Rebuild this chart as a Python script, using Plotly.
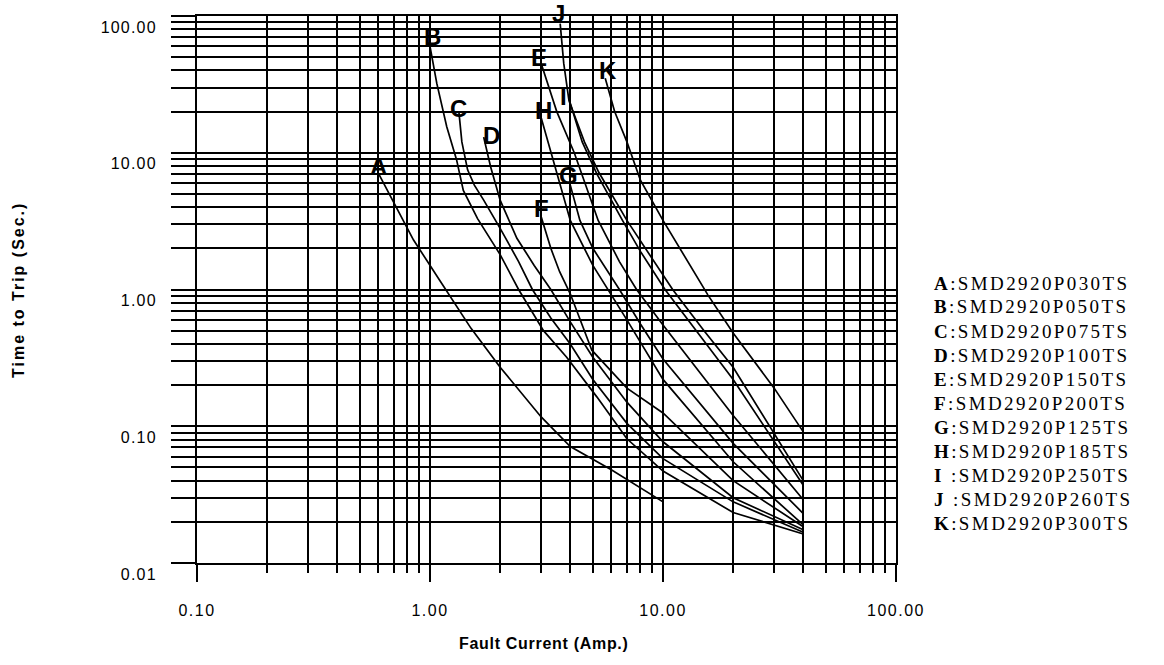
import math
import plotly.graph_objects as go

# ---------------- data (fault current in A, time to trip in s) ----------------
A_I = [0.6, 0.85, 1.1, 1.24, 1.5, 2.0, 3.0, 4.0, 6.0, 10.0]
A_t = [7.1, 2.3, 1.17, 0.86, 0.52, 0.27, 0.117, 0.071, 0.048, 0.028]

B_I = [1.0, 1.07, 1.18, 1.30, 1.39, 1.6, 2.0, 2.4, 3.07, 3.86, 5.2, 7.0, 10.0, 20.0, 40.0]
B_t = [60, 32, 15.5, 8.9, 5.3, 3.3, 1.8, 1.0, 0.5, 0.32, 0.164, 0.081, 0.047, 0.0234, 0.0163]

C_I = [1.33, 1.37, 1.45, 1.55, 1.7, 2.0, 2.4, 2.75, 3.3, 4.0, 5.0, 7.0, 10.0, 20.0, 40.0]
C_t = [20, 12, 7.5, 5.8, 4.5, 2.8, 1.6, 1.0, 0.62, 0.4, 0.22, 0.105, 0.058, 0.028, 0.0168]

D_I = [1.7, 1.82, 2.0, 2.36, 2.8, 3.3, 4.0, 5.0, 7.0, 10.0, 20.0, 40.0]
D_t = [13, 7.9, 4.5, 2.37, 1.5, 1.0, 0.58, 0.32, 0.15, 0.077, 0.03, 0.0175]

E_I = [3.0, 3.5, 4.16, 5.27, 6.5, 7.7, 10.0, 20.0, 40.0]
E_t = [45, 20, 10, 3.2, 1.6, 1.0, 0.55, 0.12, 0.029]

F_I = [3.0, 3.3, 3.6, 4.0, 4.95, 7.0, 10.0, 20.0, 40.0]
F_t = [3.4, 2.0, 1.35, 0.93, 0.36, 0.19, 0.125, 0.04, 0.0184]

G_I = [4.0, 4.2, 4.4, 5.0, 6.5, 8.0, 10.0, 20.0, 40.0]
G_t = [5.8, 4.2, 3.2, 2.0, 1.0, 0.56, 0.31, 0.075, 0.023]

H_I = [3.0, 3.5, 4.0, 5.0, 5.8, 7.0, 10.0, 20.0, 40.0]
H_t = [18, 7.3, 3.2, 1.5, 1.0, 0.6, 0.22, 0.055, 0.019]

I_I = [4.0, 4.5, 5.2, 6.7, 8.0, 10.2, 15.0, 20.0, 40.0]
I_t = [23, 12, 7, 3.2, 1.9, 1.0, 0.42, 0.22, 0.037]

J_I = [3.62, 3.75, 3.95, 4.6, 5.3, 7.0, 11.0, 15.0, 20.0, 40.0]
J_t = [88, 45, 24, 12, 7.2, 3.2, 1.0, 0.5, 0.27, 0.040]

K_I = [5.65, 6.2, 7.0, 8.0, 10.0, 15.6, 20.0, 30.0, 40.0]
K_t = [35, 20, 12, 6.3, 3.2, 0.91, 0.48, 0.19, 0.091]

curve_letters = ["A", "B", "C", "D", "E", "F", "G", "H", "I", "J", "K"]
curve_currents = [A_I, B_I, C_I, D_I, E_I, F_I, G_I, H_I, I_I, J_I, K_I]
curve_times = [A_t, B_t, C_t, D_t, E_t, F_t, G_t, H_t, I_t, J_t, K_t]

legend_letters = ["A", "B", "C", "D", "E", "F", "G", "H", "I ", "J ", "K"]
part_numbers = ["SMD2920P030TS", "SMD2920P050TS", "SMD2920P075TS", "SMD2920P100TS",
                "SMD2920P150TS", "SMD2920P200TS", "SMD2920P125TS", "SMD2920P185TS",
                "SMD2920P250TS", "SMD2920P260TS", "SMD2920P300TS"]

x_major = [0.1, 1, 10, 100]
x_major_text = ["0.10", "1.00", "10.00", "100.00"]
x_minor = [0.2, 0.3, 0.4, 0.5, 0.6, 0.7, 0.8, 0.9,
           2, 3, 4, 5, 6, 7, 8, 9,
           20, 30, 40, 50, 60, 70, 80, 90]
y_major = [0.01, 0.1, 1, 10, 100]
y_major_text = ["0.01", "0.10", "1.00", "10.00", "100.00"]
y_minor = [0.02, 0.03, 0.04, 0.05, 0.06, 0.07, 0.08, 0.09,
           0.2, 0.3, 0.4, 0.5, 0.6, 0.7, 0.8, 0.9,
           2, 3, 4, 5, 6, 7, 8, 9,
           20, 30, 40, 50, 60, 70, 80, 90]

# ---------------- style ----------------
# pixel offsets of each curve letter relative to the curve's first point
label_shift = {"A": (0, 7), "B": (2, 10), "C": (0, 3), "D": (8, 2), "E": (-2, 6),
               "F": (0, 8), "G": (-2, 10), "H": (2, 7), "I": (-7, 7), "J": (-2, 10),
               "K": (3, 8)}


def spaced(txt, px):
    return '<span style="letter-spacing:%spx">%s</span>' % (px, txt)


W, H = 1164, 665
ML, MR, MT, MB = 197, 268, 16, 102
plot_w = W - ML - MR
plot_h = H - MT - MB

fig = go.Figure()
for letter, xs, ys in zip(curve_letters, curve_currents, curve_times):
    fig.add_trace(go.Scatter(x=xs, y=ys, mode="lines", name=letter,
                             line=dict(color="black", width=1.7),
                             showlegend=False, hoverinfo="skip"))

annotations = []
for letter, xs, ys in zip(curve_letters, curve_currents, curve_times):
    dx, dy = label_shift[letter]
    annotations.append(dict(x=math.log10(xs[0]), y=math.log10(ys[0]), xref="x", yref="y",
                            text="<b>%s</b>" % letter, showarrow=False,
                            xanchor="center", yanchor="middle", xshift=dx, yshift=dy,
                            font=dict(family="Liberation Sans", size=24, color="black")))

for i, (lt, pn) in enumerate(zip(legend_letters, part_numbers)):
    ypx = 283 + 24 * i
    annotations.append(dict(x=(932 - ML) / plot_w, y=(H - MB - ypx) / plot_h,
                            xref="paper", yref="paper",
                            text=spaced("<b>%s</b>:%s" % (lt, pn), 2.4), showarrow=False,
                            xanchor="left", yanchor="middle",
                            font=dict(family="Liberation Serif", size=19, color="black")))

annotations.append(dict(x=(18 - ML) / plot_w, y=(H - MB - 290) / plot_h, xref="paper", yref="paper",
                        text=spaced("<b>Time to Trip (Sec.)</b>", 2), textangle=-90, showarrow=False,
                        xanchor="center", yanchor="middle",
                        font=dict(family="Liberation Sans", size=16, color="black")))
annotations.append(dict(x=(544 - ML) / plot_w, y=(H - MB - 643) / plot_h, xref="paper", yref="paper",
                        text=spaced("<b>Fault Current (Amp.)</b>", 0.7), showarrow=False,
                        xanchor="center", yanchor="middle",
                        font=dict(family="Liberation Sans", size=16, color="black")))

axis_common = dict(type="log", showgrid=True, gridcolor="black", gridwidth=2,
                   ticks="outside", tickwidth=2, tickcolor="black",
                   showline=True, linecolor="black", linewidth=2, mirror=True,
                   zeroline=False, tickmode="array",
                   tickfont=dict(family="Liberation Sans", size=16, color="black"))

fig.update_layout(
    width=W, height=H,
    margin=dict(l=ML, r=MR, t=MT, b=MB),
    paper_bgcolor="white", plot_bgcolor="white",
    xaxis=dict(range=[-1, 2], tickvals=x_major, ticktext=[spaced(t, 1.5) for t in x_major_text],
               ticklen=17, ticklabelstandoff=15,
               minor=dict(tickmode="array", tickvals=x_minor, showgrid=True, gridcolor="black",
                          gridwidth=2, ticks="outside", ticklen=8, tickwidth=2, tickcolor="black"),
               **axis_common),
    yaxis=dict(range=[-2, 2], tickvals=y_major, ticktext=[spaced(t, 1.2) for t in y_major_text],
               ticklen=24, ticklabelstandoff=11, ticklabelshift=11,
               minor=dict(tickmode="array", tickvals=y_minor, showgrid=True, gridcolor="black",
                          gridwidth=2, ticks="outside", ticklen=24, tickwidth=2, tickcolor="black"),
               **axis_common),
    annotations=annotations,
)

fig.write_html("out.html", config={"displayModeBar": False},
               post_script="document.body.style.margin='0';document.body.style.overflow='hidden';")
